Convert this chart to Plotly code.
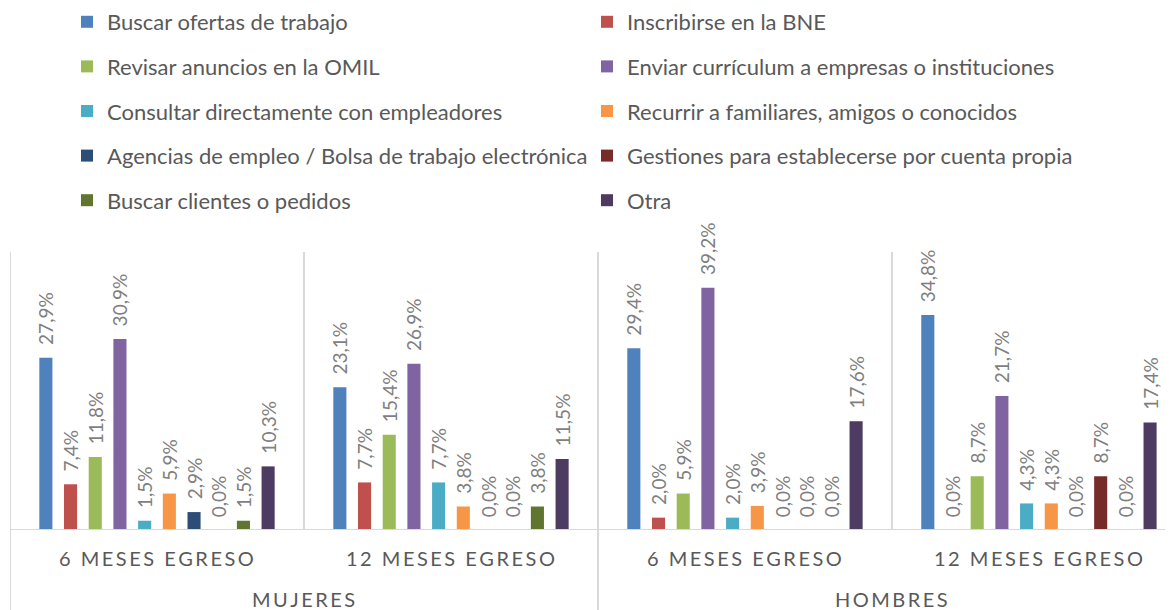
import plotly.graph_objects as go

groups = ["6 MESES EGRESO", "12 MESES EGRESO", "6 MESES EGRESO", "12 MESES EGRESO"]
sexes = ["MUJERES", "HOMBRES"]
series = [
    "Buscar ofertas de trabajo",
    "Inscribirse en la BNE",
    "Revisar anuncios en la OMIL",
    "Enviar currículum a empresas o instituciones",
    "Consultar directamente con empleadores",
    "Recurrir a familiares, amigos o conocidos",
    "Agencias de empleo / Bolsa de trabajo electrónica",
    "Gestiones para establecerse por cuenta propia",
    "Buscar clientes o pedidos",
    "Otra",
]
colors = ["#4F81BD", "#C0504D", "#9BBB59", "#8064A2", "#4BACC6",
          "#F79646", "#2C4D75", "#772C2A", "#5F7530", "#4D3B62"]

# values per series, for [Mujeres 6m, Mujeres 12m, Hombres 6m, Hombres 12m]
buscar_ofertas = [27.9, 23.1, 29.4, 34.8]
inscribirse_bne = [7.4, 7.7, 2.0, 0.0]
revisar_omil = [11.8, 15.4, 5.9, 8.7]
enviar_cv = [30.9, 26.9, 39.2, 21.7]
consultar = [1.5, 7.7, 2.0, 4.3]
recurrir = [5.9, 3.8, 3.9, 4.3]
agencias = [2.9, 0.0, 0.0, 0.0]
gestiones = [0.0, 0.0, 0.0, 8.7]
buscar_clientes = [1.5, 3.8, 0.0, 0.0]
otra = [10.3, 11.5, 17.6, 17.4]

values = [buscar_ofertas, inscribirse_bne, revisar_omil, enviar_cv, consultar,
          recurrir, agencias, gestiones, buscar_clientes, otra]

xpos = [0, 1, 2, 3]
FONT = "Lato"

# page body has an 8px margin; figure is sized so it ends at the window edge
OFF = 8
W, H = 1173 - OFF, 610 - OFF
TOP, BASE = 252 - OFF, 530 - OFF   # plot area top / baseline, figure pixels
PLOT_H = BASE - TOP

def py(screen_y):
    return (BASE - (screen_y - OFF)) / PLOT_H

fig = go.Figure()
for i, (name, vals, col) in enumerate(zip(series, values, colors)):
    fig.add_trace(go.Bar(
        x=xpos, y=vals, name=name,
        marker=dict(color=col, line=dict(width=0)),
        texttemplate="\u00a0\u00a0%{y:.1f}%",
        textposition="outside",
        textangle=-90,
        constraintext="none",
        cliponaxis=False,
        outsidetextfont=dict(family=FONT, size=19, color="#7F7F7F"),
        legend="legend" if i % 2 == 0 else "legend2",
        legendgroup=f"g{i}",
        hoverinfo="skip",
    ))

def spaced(s, sep="\u2009"):
    return sep.join(list(s))

annotations = []
for i, g in enumerate(groups):
    annotations.append(dict(x=xpos[i], xref="x", y=py(558), yref="paper",
                            yanchor="middle", text=spaced(g), showarrow=False,
                            font=dict(family=FONT, size=20, color="#595959")))
for j, s in enumerate(sexes):
    annotations.append(dict(x=2 * j + 0.5, xref="x", y=py(599), yref="paper",
                            yanchor="middle", text=spaced(s), showarrow=False,
                            font=dict(family=FONT, size=20, color="#595959")))

line_col = "#D9D9D9"
shapes = [
    dict(type="line", xref="paper", yref="y", x0=0, x1=1, y0=0, y1=0,
         line=dict(color=line_col, width=2)),
]
for b in [-0.5, 0.5, 1.5, 2.5]:
    full = b in (-0.5, 1.5)
    shapes.append(dict(type="line", xref="x", yref="paper", x0=b, x1=b,
                       y0=py(612) if full else 0, y1=1,
                       line=dict(color=line_col, width=2)))

legend_font = dict(family=FONT, size=22, color="#595959")
legend_y = py(1)
fig.update_layout(
    width=W, height=H,
    margin=dict(l=10 - OFF, r=0, t=TOP, b=H - BASE, pad=0, autoexpand=False),
    paper_bgcolor="white", plot_bgcolor="white",
    separators=",.",
    barmode="group", bargap=0.16, bargroupgap=0.47,
    xaxis=dict(range=[-0.5, 3.456], showticklabels=False, showgrid=False,
               zeroline=False, showline=False, fixedrange=True),
    yaxis=dict(range=[0, 45], showticklabels=False, showgrid=False,
               zeroline=False, showline=False, fixedrange=True),
    legend=dict(x=59 / W, xref="container", y=legend_y, yref="paper",
                xanchor="left", yanchor="top", orientation="v",
                tracegroupgap=13, font=legend_font, bgcolor="rgba(0,0,0,0)"),
    legend2=dict(x=579 / W, xref="container", y=legend_y, yref="paper",
                 xanchor="left", yanchor="top", orientation="v",
                 tracegroupgap=13, font=legend_font, bgcolor="rgba(0,0,0,0)"),
    annotations=annotations,
    shapes=shapes,
    font=dict(family=FONT, color="#595959"),
    showlegend=True,
)

fig.write_html("out.html")
